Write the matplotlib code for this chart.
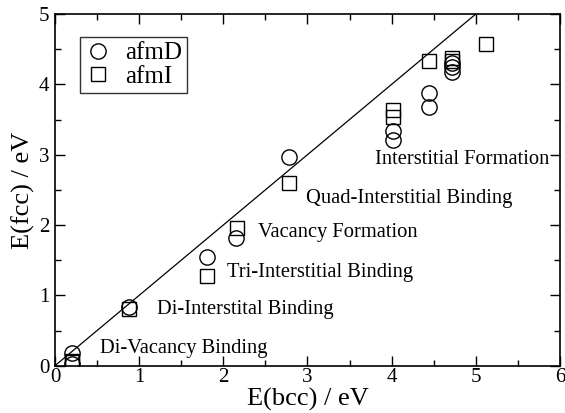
import matplotlib
matplotlib.use("Agg")
import matplotlib.pyplot as plt
from matplotlib.ticker import MultipleLocator

plt.rcParams['font.family'] = ['Liberation Serif', 'DejaVu Serif']

# afmD (circles)
afmD_x = [0.20, 0.20, 0.88, 1.81, 2.15, 2.78, 4.02, 4.02, 4.44, 4.44, 4.72, 4.72, 4.72]
afmD_y = [0.18, 0.03, 0.84, 1.55, 1.81, 2.97, 3.33, 3.21, 3.88, 3.68, 4.30, 4.24, 4.18]
# afmI (squares)
afmI_x = [0.20, 0.20, 0.88, 1.81, 2.16, 2.78, 4.02, 4.02, 4.44, 4.72, 4.72, 5.12]
afmI_y = [0.07, 0.05, 0.80, 1.28, 1.96, 2.60, 3.63, 3.53, 4.33, 4.37, 4.33, 4.57]

line_x = [0, 5]
line_y = [0, 5]

labels = ["Di-Vacancy Binding", "Di-Interstital Binding", "Tri-Interstitial Binding",
          "Vacancy Formation", "Quad-Interstitial Binding", "Interstitial Formation"]
label_x = [0.53, 1.21, 2.05, 2.41, 2.98, 3.80]
label_y = [0.24, 0.80, 1.32, 1.89, 2.38, 2.93]

fig = plt.figure(figsize=(5.65, 4.13), dpi=100)
ax = fig.add_axes([0.0973, 0.1145, 0.8937, 0.8515])

ax.plot(line_x, line_y, color='black', lw=0.9)
ax.plot(afmD_x, afmD_y, linestyle='none', marker='o', ms=11, mfc='none', mec='black', mew=1.0, label='afmD')
ax.plot(afmI_x, afmI_y, linestyle='none', marker='s', ms=9.5, mfc='none', mec='black', mew=1.0, label='afmI')

for t, x, y in zip(labels, label_x, label_y):
    ax.text(x, y, t, fontsize=14.8, va='center', ha='left')

ax.set_xlim(0, 6)
ax.set_ylim(0, 5)
ax.xaxis.set_major_locator(MultipleLocator(1))
ax.xaxis.set_minor_locator(MultipleLocator(0.5))
ax.yaxis.set_major_locator(MultipleLocator(1))
ax.yaxis.set_minor_locator(MultipleLocator(0.5))
ax.tick_params(which='both', direction='in', top=True, right=True, labelsize=15)
ax.tick_params(axis='x', which='both', pad=1.5)
ax.tick_params(axis='y', which='both', pad=4)
ax.tick_params(which='major', length=7, width=1)
ax.tick_params(which='minor', length=4, width=1)
for s in ax.spines.values():
    s.set_linewidth(1.2)

ax.set_xlabel('E(bcc) / eV', fontsize=19, labelpad=1)
ax.set_ylabel('E(fcc) / eV', fontsize=19, labelpad=3)

leg = ax.legend(loc='upper left', bbox_to_anchor=(0.05, 0.935), fontsize=18, frameon=True,
                fancybox=False, edgecolor='black', handlelength=1.0, handletextpad=0.6,
                borderpad=0.2, labelspacing=0.05, borderaxespad=0)
leg.get_frame().set_linewidth(1.0)

fig.savefig('out.png', dpi=100)
